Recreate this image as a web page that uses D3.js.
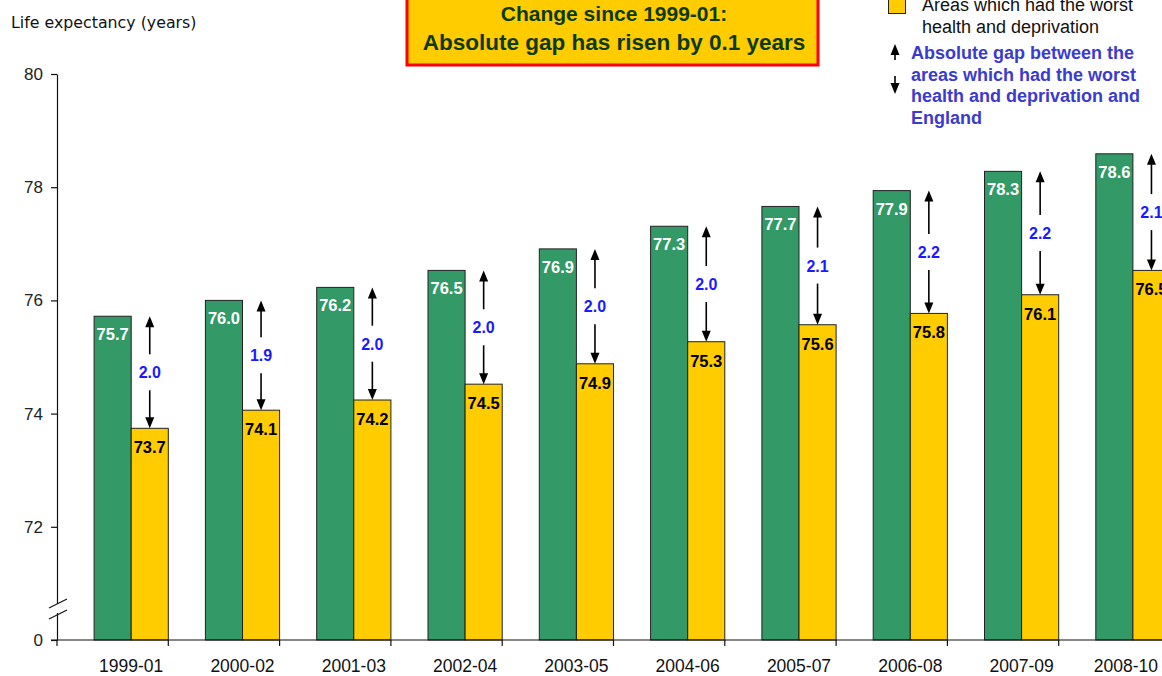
<!DOCTYPE html>
<html>
<head>
<meta charset="utf-8">
<script src="https://cdn.jsdelivr.net/npm/d3@7"></script>
<style>
  html, body { margin: 0; padding: 0; background: #fff; }
  svg { display: block; }
</style>
</head>
<body>
<svg id="chart" width="1162" height="676"></svg>
<script>
// Three-year periods
const periods = ["1999-01", "2000-02", "2001-03", "2002-04", "2003-05",
                 "2004-06", "2005-07", "2006-08", "2007-09", "2008-10"];
// Life expectancy at birth (years)
const england = [75.72, 76.00, 76.23, 76.53, 76.91, 77.31, 77.66, 77.94, 78.28, 78.59];
const worstAreas = [73.74, 74.06, 74.24, 74.52, 74.88, 75.27, 75.57, 75.77, 76.10, 76.53];
// Axis ticks; the lowest tick sits below the axis break and reads 0
const yTicks = [70, 72, 74, 76, 78, 80];
const yTickLabels = ["0", "72", "74", "76", "78", "80"];

const seriesNames = ["England", "Areas which had the worst health and deprivation"];

const svg = d3.select("#chart");
const W = 1162;
const FONT = "'Liberation Sans', Arial, sans-serif";
const GREEN = "#339966", GOLD = "#ffcc00";

const y = d3.scaleLinear().domain([70, 80]).range([640, 74]);
const x = d3.scaleBand().domain(periods).range([57, 57 + 111.3 * periods.length]).padding(0);
const bw = x.bandwidth();
const barW = bw / 3;
const fmt = d3.format(".1f");

// Y axis title
svg.append("text").attr("x", 11).attr("y", 28)
  .attr("font-family", "'DejaVu Sans', Verdana, sans-serif").attr("font-size", 15.8)
  .attr("fill", "#111").text("Life expectancy (years)");

// Y axis
const yAxis = d3.axisLeft(y).tickValues(yTicks)
  .tickFormat((d, i) => yTickLabels[i]).tickSize(6).tickSizeOuter(0);
const gy = svg.append("g").attr("transform", "translate(57,0)").call(yAxis);
gy.select(".domain").attr("stroke", "#111").attr("stroke-width", 1.2);
gy.selectAll(".tick line").attr("stroke", "#111").attr("stroke-width", 1.2);
gy.selectAll(".tick text").attr("font-family", FONT).attr("font-size", 17)
  .attr("fill", "#222").attr("x", -14);

// Bars
const groups = svg.append("g").selectAll("g").data(periods).join("g");
groups.append("rect")
  .attr("x", d => x(d) + barW).attr("width", barW)
  .attr("y", (d, i) => y(england[i])).attr("height", (d, i) => y(70) - y(england[i]))
  .attr("fill", GREEN).attr("stroke", "#222").attr("stroke-width", 1);
groups.append("rect")
  .attr("x", d => x(d) + 2 * barW).attr("width", barW)
  .attr("y", (d, i) => y(worstAreas[i])).attr("height", (d, i) => y(70) - y(worstAreas[i]))
  .attr("fill", GOLD).attr("stroke", "#222").attr("stroke-width", 1);

// Bar value labels
groups.append("text")
  .attr("x", d => x(d) + 1.5 * barW).attr("y", (d, i) => y(england[i]) + 24)
  .attr("text-anchor", "middle").attr("font-family", FONT).attr("font-weight", "bold")
  .attr("font-size", 16.5).attr("fill", "#fff").text((d, i) => fmt(england[i]));
groups.append("text")
  .attr("x", d => x(d) + 2.5 * barW).attr("y", (d, i) => y(worstAreas[i]) + 25)
  .attr("text-anchor", "middle").attr("font-family", FONT).attr("font-weight", "bold")
  .attr("font-size", 16.5).attr("fill", "#000").text((d, i) => fmt(worstAreas[i]));

// Gap arrows between England and the worst areas
function arrowHead(sel, cx, tipY, dir) {
  // dir = -1 points up, 1 points down
  sel.append("path")
    .attr("d", `M${cx},${tipY} L${cx - 4.5},${tipY - dir * 11} L${cx + 4.5},${tipY - dir * 11} Z`)
    .attr("fill", "#000");
}
groups.each(function (d, i) {
  const g = d3.select(this);
  const cx = x(d) + 2.5 * barW;
  const top = y(england[i]), bot = y(worstAreas[i]);
  const mid = (top + bot) / 2;
  g.append("line").attr("x1", cx).attr("x2", cx).attr("y1", top + 8).attr("y2", mid - 18)
    .attr("stroke", "#000").attr("stroke-width", 1.6);
  arrowHead(g, cx, top, -1);
  g.append("line").attr("x1", cx).attr("x2", cx).attr("y1", mid + 18).attr("y2", bot - 8)
    .attr("stroke", "#000").attr("stroke-width", 1.6);
  arrowHead(g, cx, bot, 1);
  g.append("text").attr("x", cx).attr("y", mid + 6)
    .attr("text-anchor", "middle").attr("font-family", FONT).attr("font-weight", "bold")
    .attr("font-size", 16).attr("fill", "#1a1aff")
    .text(fmt(england[i] - worstAreas[i]));
});

// X axis
const gx = svg.append("g");
gx.append("line").attr("x1", 51).attr("x2", W).attr("y1", y(70)).attr("y2", y(70))
  .attr("stroke", "#111").attr("stroke-width", 1.2);
gx.selectAll("line.tick").data(periods.concat(["end"])).join("line").attr("class", "tick")
  .attr("x1", (d, i) => x.range()[0] + i * bw).attr("x2", (d, i) => x.range()[0] + i * bw)
  .attr("y1", y(70)).attr("y2", y(70) + 6).attr("stroke", "#111").attr("stroke-width", 1.2);
gx.selectAll("text").data(periods).join("text")
  .attr("x", d => x(d) + 2 * barW).attr("y", 672)
  .attr("text-anchor", "middle").attr("font-family", FONT).attr("font-size", 17.5)
  .attr("fill", "#111").text(d => d)
  .each(function () {
    // keep the last label inside the page edge
    const t = d3.select(this);
    const half = this.getComputedTextLength() / 2;
    const cx = +t.attr("x");
    if (cx + half > W - 4) t.attr("x", W - 4 - half);
  });

// Axis break
svg.append("rect").attr("x", 53).attr("y", 604).attr("width", 8).attr("height", 9).attr("fill", "#fff");
[[608, 599], [619, 610]].forEach(([y1, y2]) => {
  svg.append("line").attr("x1", 49).attr("y1", y1).attr("x2", 67).attr("y2", y2)
    .attr("stroke", "#111").attr("stroke-width", 1.2);
});

// Title box
const tb = svg.append("g");
tb.append("rect").attr("x", 407).attr("y", -6).attr("width", 411).attr("height", 71)
  .attr("fill", GOLD).attr("stroke", "#ff0000").attr("stroke-width", 3);
tb.append("text").attr("x", 614).attr("y", 21).attr("text-anchor", "middle")
  .attr("font-family", FONT).attr("font-weight", "bold").attr("font-size", 21)
  .attr("fill", "#0d3a0d").text("Change since 1999-01:");
tb.append("text").attr("x", 614).attr("y", 50).attr("text-anchor", "middle")
  .attr("font-family", FONT).attr("font-weight", "bold").attr("font-size", 22.5)
  .attr("fill", "#0d3a0d").text("Absolute gap has risen by 0.1 years");

// Legend
const lg = svg.append("g");
lg.append("rect").attr("x", 888.5).attr("y", -3.5).attr("width", 17).attr("height", 17)
  .attr("fill", GOLD).attr("stroke", "#222").attr("stroke-width", 1);
lg.append("text").attr("x", 922).attr("y", 11).attr("font-family", FONT).attr("font-size", 18)
  .attr("fill", "#111").text("Areas which had the worst");
lg.append("text").attr("x", 922).attr("y", 33).attr("font-family", FONT).attr("font-size", 18)
  .attr("fill", "#111").text("health and deprivation");
lg.append("line").attr("x1", 895).attr("x2", 895).attr("y1", 50).attr("y2", 60)
  .attr("stroke", "#000").attr("stroke-width", 1.6);
arrowHead(lg, 895, 44, -1);
lg.append("line").attr("x1", 895).attr("x2", 895).attr("y1", 76).attr("y2", 86)
  .attr("stroke", "#000").attr("stroke-width", 1.6);
arrowHead(lg, 895, 94, 1);
["Absolute gap between the", "areas which had the worst",
 "health and deprivation and", "England"].forEach((t, i) => {
  lg.append("text").attr("x", 911).attr("y", 59 + i * 21.7)
    .attr("font-family", FONT).attr("font-weight", "bold").attr("font-size", 18)
    .attr("fill", "#3b3bd0").text(t);
});
</script>
</body>
</html>
